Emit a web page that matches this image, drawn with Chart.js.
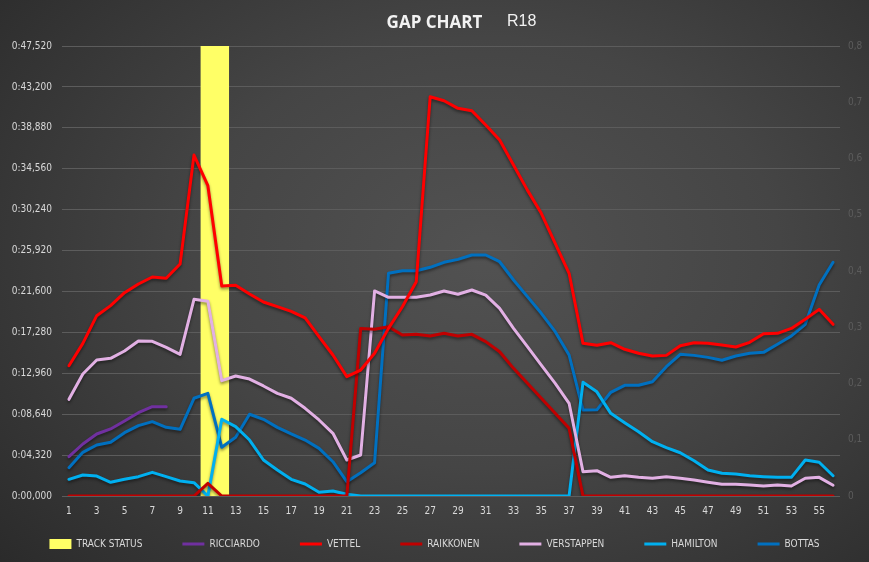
<!DOCTYPE html>
<html lang="en">
  <head>
    <meta charset="UTF-8" />
    <meta name="viewport" content="width=device-width, initial-scale=1.0" />
    <title>Gap Chart R18</title>
    <script src="https://cdn.jsdelivr.net/npm/chart.js@4.4.1/dist/chart.umd.min.js"></script>
    <style>
      html, body { margin: 0; padding: 0; }
      body {
        width: 869px;
        height: 562px;
        overflow: hidden;
        position: relative;
        background: radial-gradient(ellipse 75% 85% at 56% 45%, #525252 0%, #454545 45%, #2a2a2a 100%);
      }
      #wrap { position: absolute; left: 0; top: 0; width: 869px; height: 562px; }
      #race {
        position: absolute;
        left: 507px;
        top: 12px;
        font: 16px "Liberation Sans", Arial, sans-serif;
        color: #f2f2f2;
      }
    </style>
  </head>
  <body>
    <div id="wrap"><canvas id="gapChart"></canvas></div>
    <div id="race">R18</div>
    <script>
      const laps = ["1","2","3","4","5","6","7","8","9","10","11","12","13","14","15","16","17","18","19","20",
        "21","22","23","24","25","26","27","28","29","30","31","32","33","34","35","36","37","38","39","40",
        "41","42","43","44","45","46","47","48","49","50","51","52","53","54","55","56"]

      // gap in seconds
      const trackStatus = [null,null,null,null,null,null,null,null,null,null,0.8,0.8,null,null,null,null,null,null,null,null,
        null,null,null,null,null,null,null,null,null,null,null,null,null,null,null,null,null,null,null,null,
        null,null,null,null,null,null,null,null,null,null,null,null,null,null,null,null]
      const ricciardo = [4.15,5.49,6.55,7.08,7.92,8.80,9.43,9.43,null,null,null,null,null,null,null,null,null,null,null,null,
        null,null,null,null,null,null,null,null,null,null,null,null,null,null,null,null,null,null,null,null,
        null,null,null,null,null,null,null,null,null,null,null,null,null,null,null,null]
      const vettel = [13.76,16.12,19.04,20.10,21.47,22.39,23.13,22.99,24.50,36.00,
        32.77,22.18,22.25,21.33,20.49,19.99,19.50,18.80,16.82,14.89,
        12.60,13.30,15.07,17.70,19.99,22.63,42.16,41.74,40.94,40.69,
        39.18,37.60,34.95,32.30,29.85,26.68,23.52,16.12,15.91,16.19,
        15.49,15.07,14.78,14.85,15.87,16.19,16.12,15.94,15.73,16.23,
        17.14,17.18,17.70,18.66,19.71,18.13]
      const raikkonen = [0,0,0,0,0,0,0,0,0,0,
        1.34,0,0,0,0,0,0,0,0,0,
        0,17.70,17.60,17.88,17.00,17.07,16.90,17.18,16.90,17.07,
        16.30,15.24,13.48,11.90,10.32,8.73,7.15,0,0,0,
        0,0,0,0,0,0,0,0,0,0,
        0,0,0,0,0,0]
      const verstappen = [10.21,12.88,14.36,14.54,15.31,16.37,16.33,15.70,14.96,20.77,
        20.56,12.18,12.67,12.35,11.62,10.84,10.32,9.26,8.03,6.62,
        3.80,4.33,21.65,20.98,20.98,20.98,21.22,21.65,21.30,21.75,
        21.22,19.82,17.70,15.77,13.83,11.90,9.79,2.57,2.67,1.97,
        2.14,1.97,1.87,2.04,1.87,1.69,1.45,1.24,1.24,1.16,
        1.06,1.16,1.06,1.87,1.97,1.13]
      const hamilton = [1.76,2.22,2.11,1.45,1.76,2.04,2.50,2.04,1.58,1.41,
        0,8.10,7.32,5.91,3.80,2.75,1.76,1.27,0.39,0.53,
        0.18,0,0,0,0,0,0,0,0,0,
        0,0,0,0,0,0,0,12.00,11.00,8.73,
        7.74,6.79,5.73,5.10,4.57,3.73,2.75,2.40,2.32,2.14,
        2.04,1.97,1.97,3.80,3.56,2.14]
      const bottas = [2.99,4.61,5.39,5.67,6.69,7.43,7.85,7.25,7.04,10.32,
        10.84,5.14,6.20,8.63,8.10,7.25,6.55,5.91,5.03,3.62,
        1.51,2.46,3.52,23.52,23.79,23.79,24.15,24.68,24.99,25.45,
        25.45,24.74,22.81,21.05,19.29,17.35,14.89,9.08,9.10,10.95,
        11.69,11.69,12.07,13.65,14.96,14.85,14.64,14.33,14.78,15.07,
        15.17,16.02,16.90,18.13,22.28,24.68]

      const gapTicks = [0,4.32,8.64,12.96,17.28,21.6,25.92,30.24,34.56,38.88,43.2,47.52]
      const gapLabels = ["0:00,000","0:04,320","0:08,640","0:12,960","0:17,280","0:21,600",
        "0:25,920","0:30,240","0:34,560","0:38,880","0:43,200","0:47,520"]
      const statusTicks = [0,0.1,0.2,0.3,0.4,0.5,0.6,0.7,0.8]
      const statusLabels = ["0","0,1","0,2","0,3","0,4","0,5","0,6","0,7","0,8"]

      const legendOrder = ["TRACK STATUS","RICCIARDO","VETTEL","RAIKKONEN","VERSTAPPEN","HAMILTON","BOTTAS"]
      const labelFont = "'DejaVu Sans Condensed', 'Liberation Sans', Arial, sans-serif"

      function driver(label, data, color) {
        return {
          type: "line",
          label: label,
          data: data,
          yAxisID: "y",
          borderColor: color,
          backgroundColor: color,
          borderWidth: 3,
          borderJoinStyle: "round",
          borderCapStyle: "round",
          pointRadius: 0,
          pointHoverRadius: 0,
          tension: 0,
          order: 0,
        }
      }

      // soft drop shadow under the lines, like the original
      const lineShadow = {
        id: "lineShadow",
        beforeDatasetDraw(chart, args) {
          if (args.meta.type !== "line") return
          const ctx = chart.ctx
          ctx.save()
          ctx.shadowColor = "rgba(0,0,0,0.45)"
          ctx.shadowBlur = 3
          ctx.shadowOffsetY = 2
        },
        afterDatasetDraw(chart, args) {
          if (args.meta.type !== "line") return
          chart.ctx.restore()
        },
      }

      // legend: wide gaps between items but a short box, then stretched up under the axis labels
      const legendSpacing = {
        id: "legendSpacing",
        afterInit(chart) {
          const legend = chart.legend
          const fit = legend.fit
          legend.fit = function () {
            fit.call(this)
            this.height = 40
          }
        },
        afterLayout(chart) {
          chart.legend.top -= 18
          chart.legend.height += 18
        },
      }

      const ctx = document.getElementById("gapChart").getContext("2d")
      const gapChart = new Chart(ctx, {
        data: {
          labels: laps,
          datasets: [
            {
              type: "bar",
              label: "TRACK STATUS",
              data: trackStatus,
              yAxisID: "y1",
              backgroundColor: "#ffff66",
              borderColor: "#ffff66",
              borderWidth: 0,
              categoryPercentage: 1,
              barPercentage: 1,
              order: 1,
            },
            driver("RICCIARDO", ricciardo, "#7030a0"),
            driver("VETTEL", vettel, "#ff0000"),
            driver("RAIKKONEN", raikkonen, "#c00000"),
            driver("VERSTAPPEN", verstappen, "#e2b0e4"),
            driver("HAMILTON", hamilton, "#00b0f0"),
            driver("BOTTAS", bottas, "#0070c0"),
          ],
        },
        options: {
          responsive: true,
          maintainAspectRatio: false,
          animation: false,
          layout: { padding: { left: 0, right: 0, top: 0, bottom: 5 } },
          plugins: {
            tooltip: { enabled: false },
            title: {
              display: true,
              text: "GAP CHART",
              color: "#f2f2f2",
              font: { family: "'Open Sans', sans-serif", size: 17, weight: "bold" },
              padding: { top: 13, bottom: 12.6 },
            },
            legend: {
              position: "bottom",
              labels: {
                color: "#d9d9d9",
                font: { family: labelFont, size: 10 },
                usePointStyle: true,
                pointStyleWidth: 22,
                boxHeight: 11,
                padding: 40,
                generateLabels(chart) {
                  const items = Chart.defaults.plugins.legend.labels.generateLabels(chart)
                  items.forEach((it) => {
                    const ds = chart.data.datasets[it.datasetIndex]
                    it.pointStyle = ds.type === "bar" ? "rect" : "line"
                    it.lineWidth = ds.type === "bar" ? 0 : 3
                    it.fillStyle = ds.backgroundColor
                    it.strokeStyle = ds.borderColor
                  })
                  return items
                },
                sort: (a, b) => legendOrder.indexOf(a.text) - legendOrder.indexOf(b.text),
              },
            },
          },
          scales: {
            x: {
              offset: true,
              grid: { display: false, drawTicks: false },
              border: { display: false },
              ticks: {
                color: "#d9d9d9",
                font: { family: labelFont, size: 10 },
                autoSkip: false,
                maxRotation: 0,
                padding: 9,
                callback: (v, i) => (i % 2 === 0 ? laps[i] : ""),
              },
              afterFit: (s) => { s.height = 21 },
            },
            y: {
              position: "left",
              min: 0,
              max: 47.52,
              afterBuildTicks: (s) => { s.ticks = gapTicks.map((v) => ({ value: v })) },
              ticks: {
                color: "#d9d9d9",
                font: { family: labelFont, size: 10 },
                padding: 10,
                callback: (v, i) => gapLabels[i],
              },
              grid: { color: "#5c5c5c", drawTicks: false },
              border: { display: false },
              afterFit: (s) => { s.width = 62 },
            },
            y1: {
              position: "right",
              min: 0,
              max: 0.8,
              afterBuildTicks: (s) => { s.ticks = statusTicks.map((v) => ({ value: v })) },
              ticks: {
                color: "#5c5c5c",
                font: { family: labelFont, size: 10 },
                padding: 8,
                callback: (v, i) => statusLabels[i],
              },
              grid: { display: false, drawTicks: false },
              border: { display: false },
              afterFit: (s) => { s.width = 29 },
            },
          },
        },
        plugins: [lineShadow, legendSpacing],
      })
    </script>
  </body>
</html>
